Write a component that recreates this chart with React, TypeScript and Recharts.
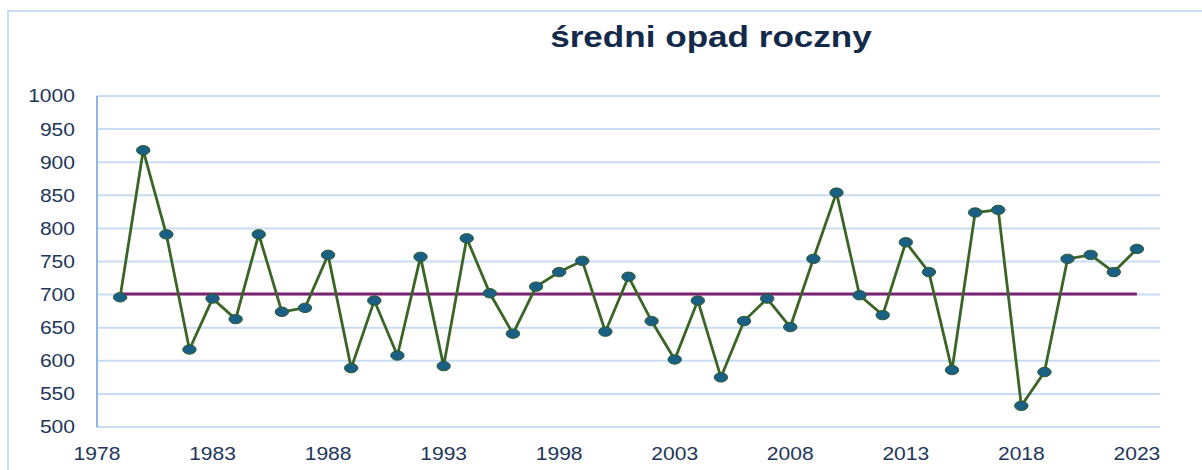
import React from 'react';
import { LineChart, Line, XAxis, YAxis, CartesianGrid } from 'recharts';

const YEARS = [
  1979, 1980, 1981, 1982, 1983, 1984, 1985, 1986, 1987, 1988,
  1989, 1990, 1991, 1992, 1993, 1994, 1995, 1996, 1997, 1998,
  1999, 2000, 2001, 2002, 2003, 2004, 2005, 2006, 2007, 2008,
  2009, 2010, 2011, 2012, 2013, 2014, 2015, 2016, 2017, 2018,
  2019, 2020, 2021, 2022, 2023,
];

const PRECIP = [
  696, 918, 791, 617, 694, 663, 791, 674, 680, 760,
  589, 691, 608, 757, 592, 785, 702, 641, 712, 734,
  751, 644, 727, 660, 602, 691, 575, 660, 694, 651,
  754, 854, 699, 669, 779, 734, 586, 824, 828, 532,
  583, 754, 760, 734, 769,
];

const MEAN = 701;

const X_TICKS = [1978, 1983, 1988, 1993, 1998, 2003, 2008, 2013, 2018, 2023];
const Y_TICKS = [500, 550, 600, 650, 700, 750, 800, 850, 900, 950, 1000];

const TITLE = 'średni opad roczny';

const data = YEARS.map((year, i) => ({ year, opad: PRECIP[i], mean: MEAN }));

const LABEL_COLOR = '#22365a';
const GRID_COLOR = '#c8ddf3';

const Dot = (props: any) => {
  const { cx, cy, index } = props;
  if (cx == null || cy == null) return null;
  return (
    <ellipse
      key={`d-${index}`}
      cx={cx}
      cy={cy}
      rx={6.7}
      ry={4.7}
      fill="#1a5f84"
      stroke="#2f5a2c"
      strokeWidth={1}
    />
  );
};

const XTick = (props: any) => {
  const { x, y, payload } = props;
  return (
    <text
      transform={`translate(${x},${y + 33}) scale(1.17,1)`}
      textAnchor="middle"
      fontFamily="'Liberation Sans', Arial, sans-serif"
      fontSize={18}
      fill={LABEL_COLOR}
    >
      {payload.value}
    </text>
  );
};

const YTick = (props: any) => {
  const { x, y, payload } = props;
  return (
    <text
      transform={`translate(${x - 22},${y + 6.4}) scale(1.17,1)`}
      textAnchor="end"
      fontFamily="'Liberation Sans', Arial, sans-serif"
      fontSize={18}
      fill={LABEL_COLOR}
    >
      {payload.value}
    </text>
  );
};

export default function App() {
  return (
    <div
      style={{
        position: 'absolute',
        left: 0,
        top: 0,
        width: 1202,
        height: 470,
        background: '#ffffff',
        overflow: 'hidden',
      }}
    >
      <div
        style={{
          position: 'absolute',
          left: 7,
          top: 10,
          width: 1400,
          height: 700,
          borderTop: `2px solid ${GRID_COLOR}`,
          borderLeft: `2px solid ${GRID_COLOR}`,
        }}
      />
      <svg
        width={1202}
        height={80}
        style={{ position: 'absolute', left: 0, top: 0 }}
      >
        <text
          transform="translate(711,47) scale(1.17,1)"
          textAnchor="middle"
          fontFamily="'Liberation Sans', Arial, sans-serif"
          fontWeight="bold"
          fontSize={30}
          fill="#142a4a"
        >
          {TITLE}
        </text>
      </svg>
      <div style={{ position: 'absolute', left: 0, top: 0 }}>
        <LineChart
          width={1202}
          height={470}
          data={data}
          margin={{ top: 96, right: 42, bottom: 13, left: 0 }}
        >
          <CartesianGrid
            vertical={false}
            horizontal={true}
            stroke={GRID_COLOR}
            strokeWidth={2}
          />
          <XAxis
            dataKey="year"
            type="number"
            domain={[1978, 2024]}
            ticks={X_TICKS}
            interval={0}
            height={30}
            axisLine={{ stroke: GRID_COLOR, strokeWidth: 2 }}
            tickLine={false}
            tickSize={0}
            tickMargin={0}
            tick={<XTick />}
          />
          <YAxis
            domain={[500, 1000]}
            ticks={Y_TICKS}
            interval={0}
            width={97}
            axisLine={{ stroke: '#8fb7e4', strokeWidth: 2 }}
            tickLine={false}
            tickSize={0}
            tickMargin={0}
            tick={<YTick />}
          />
          <Line
            dataKey="mean"
            type="linear"
            stroke="#7c2272"
            strokeWidth={3}
            dot={false}
            activeDot={false}
            isAnimationActive={false}
          />
          <Line
            dataKey="opad"
            type="linear"
            stroke="#3a6526"
            strokeWidth={2.8}
            dot={<Dot />}
            activeDot={false}
            isAnimationActive={false}
          />
        </LineChart>
      </div>
    </div>
  );
}
